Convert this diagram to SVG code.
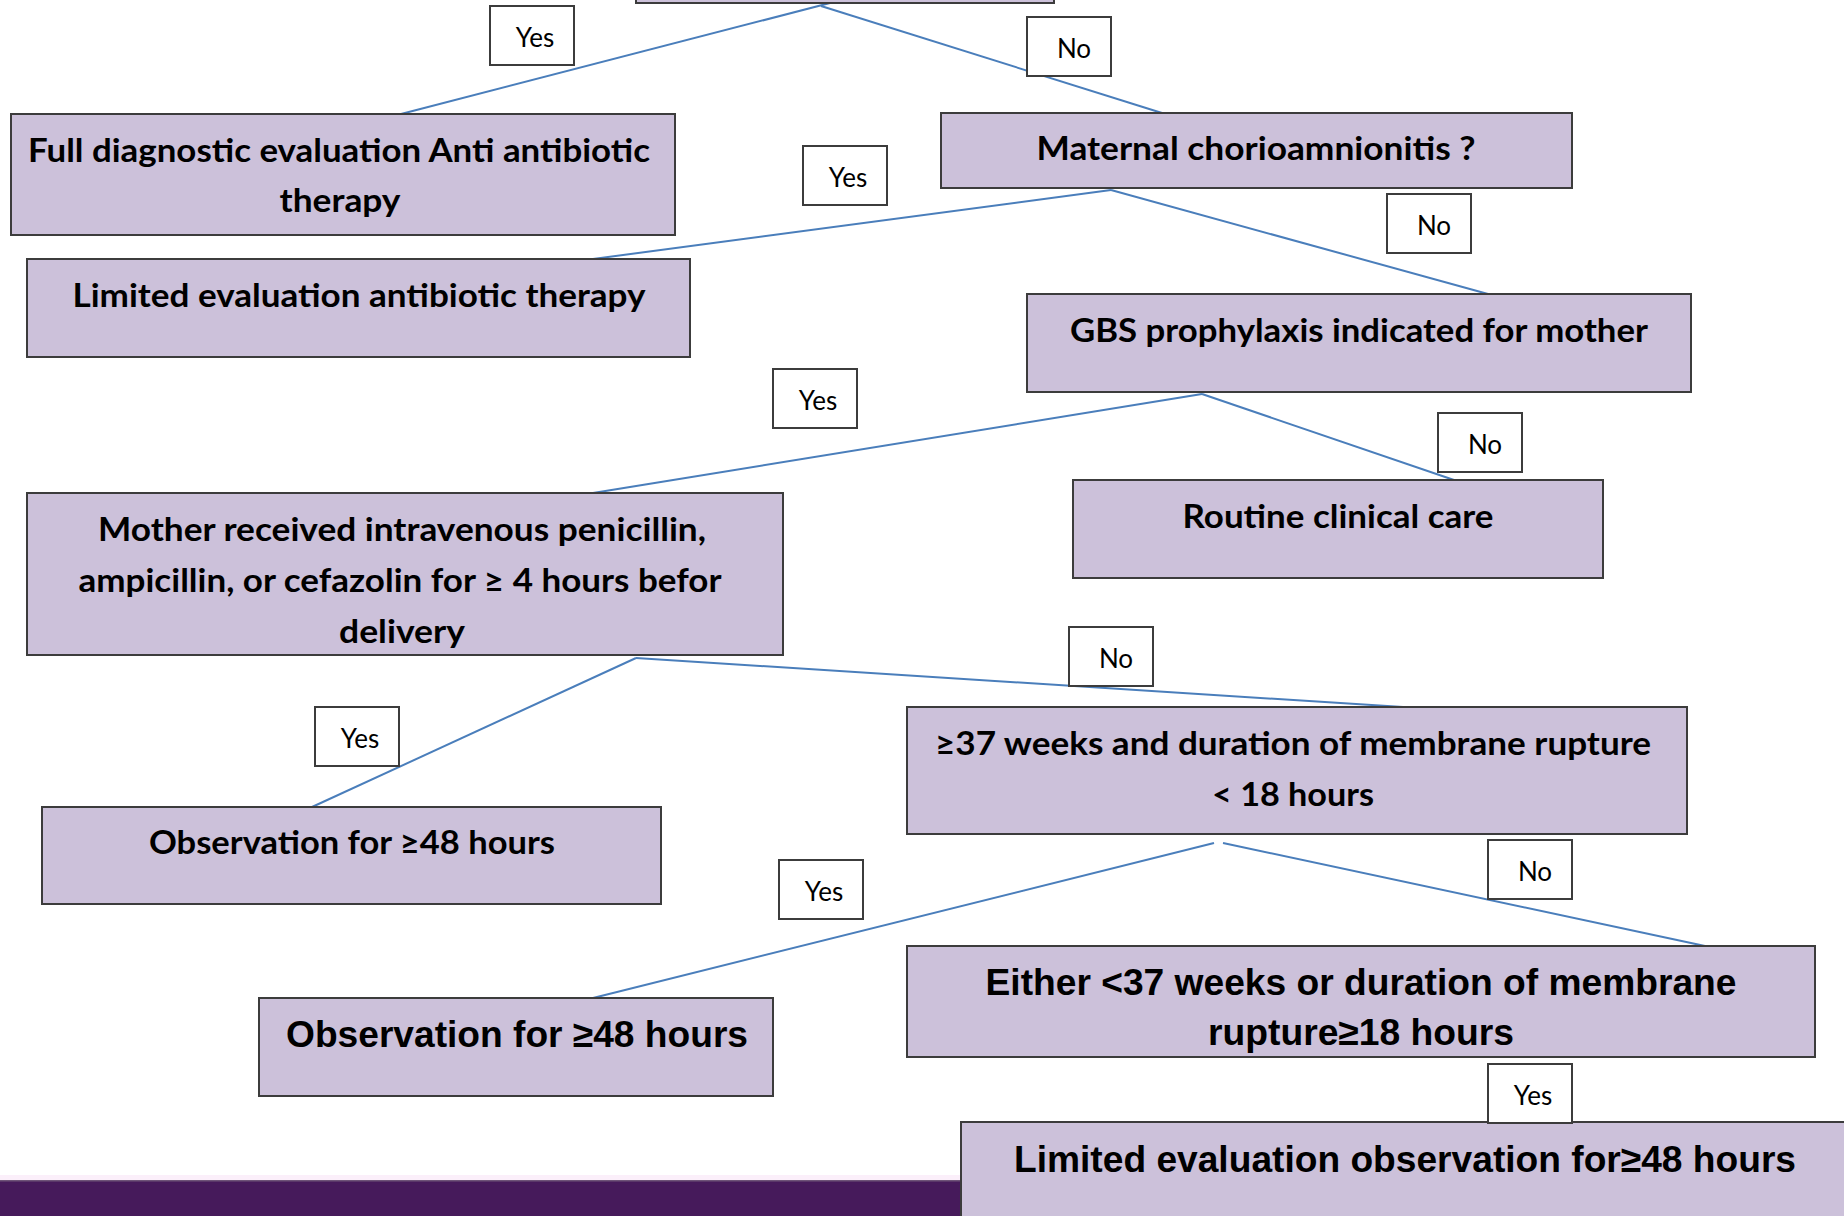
<svg xmlns="http://www.w3.org/2000/svg" width="1844" height="1216" viewBox="0 0 1844 1216">
<style>
.box{fill:#ccc1da;stroke:#3c3c3c;stroke-width:2}
.lbl{fill:#ffffff;stroke:#3c3c3c;stroke-width:2}
.t{font-family:Lato,"Open Sans",sans-serif;font-weight:bold;font-size:32px;fill:#000;text-anchor:middle}
.a{font-family:"Liberation Sans",Arial,sans-serif;font-weight:bold;font-size:37px;fill:#000;text-anchor:middle}
.l{font-family:Lato,"Open Sans",sans-serif;font-size:26px;fill:#000;text-anchor:middle}
.c{stroke:#4a7ebb;stroke-width:2;fill:none}
</style>
<rect width="1844" height="1216" fill="#ffffff"/>
<rect x="0" y="1175" width="1844" height="5" fill="#fbeffa"/>
<rect x="0" y="1180" width="1844" height="36" fill="#461a5b"/>
<rect x="0" y="1180" width="1844" height="1.5" fill="#6e5478"/>

<g id="connectors">
<line class="c" x1="830" y1="3" x2="401" y2="114"/>
<line class="c" x1="821" y1="6" x2="1162" y2="113"/>
<line class="c" x1="1111" y1="190" x2="593" y2="259"/>
<line class="c" x1="1111" y1="190" x2="1488" y2="294"/>
<line class="c" x1="1202" y1="394" x2="593" y2="493"/>
<line class="c" x1="1202" y1="394" x2="1454" y2="480"/>
<line class="c" x1="636" y1="658" x2="312" y2="807"/>
<line class="c" x1="636" y1="658" x2="1403" y2="707"/>
<line class="c" x1="1214" y1="843" x2="593" y2="998"/>
<line class="c" x1="1223" y1="843" x2="1705" y2="946"/>
</g>

<g id="n-top"><rect class="box" x="636" y="-40" width="418" height="43"/></g>

<g id="n-full"><rect class="box" x="11" y="114" width="664" height="121"/>
<text class="t" x="339" y="162" textLength="622" lengthAdjust="spacingAndGlyphs">Full diagnostic evaluation Anti antibiotic</text>
<text class="t" x="340" y="212" textLength="121" lengthAdjust="spacingAndGlyphs">therapy</text></g>

<g id="n-chorio"><rect class="box" x="941" y="113" width="631" height="75"/>
<text class="t" x="1256" y="160" textLength="439" lengthAdjust="spacingAndGlyphs">Maternal chorioamnionitis ?</text></g>

<g id="n-limited"><rect class="box" x="27" y="259" width="663" height="98"/>
<text class="t" x="359" y="307" textLength="573" lengthAdjust="spacingAndGlyphs">Limited evaluation antibiotic therapy</text></g>

<g id="n-gbs"><rect class="box" x="1027" y="294" width="664" height="98"/>
<text class="t" x="1359" y="342" textLength="578" lengthAdjust="spacingAndGlyphs">GBS prophylaxis indicated for mother</text></g>

<g id="n-routine"><rect class="box" x="1073" y="480" width="530" height="98"/>
<text class="t" x="1338" y="528" textLength="311" lengthAdjust="spacingAndGlyphs">Routine clinical care</text></g>

<g id="n-mother"><rect class="box" x="27" y="493" width="756" height="162"/>
<text class="t" x="402" y="541" textLength="608" lengthAdjust="spacingAndGlyphs">Mother received intravenous penicillin,</text>
<text class="t" x="400" y="592" textLength="643" lengthAdjust="spacingAndGlyphs">ampicillin, or cefazolin for ≥ 4 hours befor</text>
<text class="t" x="402" y="643" textLength="126" lengthAdjust="spacingAndGlyphs">delivery</text></g>

<g id="n-37weeks"><rect class="box" x="907" y="707" width="780" height="127"/>
<text class="t" x="1293" y="755" textLength="716" lengthAdjust="spacingAndGlyphs">≥37 weeks and duration of membrane rupture</text>
<text class="t" x="1293" y="806" textLength="162" lengthAdjust="spacingAndGlyphs">&lt; 18 hours</text></g>

<g id="n-obs1"><rect class="box" x="42" y="807" width="619" height="97"/>
<text class="t" x="352" y="854" textLength="406" lengthAdjust="spacingAndGlyphs">Observation for ≥48 hours</text></g>

<g id="n-obs2"><rect class="box" x="259" y="998" width="514" height="98"/>
<text class="a" x="517" y="1047" textLength="462" lengthAdjust="spacingAndGlyphs">Observation for ≥48 hours</text></g>

<g id="n-either"><rect class="box" x="907" y="946" width="908" height="111"/>
<text class="a" x="1361" y="995" textLength="751" lengthAdjust="spacingAndGlyphs">Either &lt;37 weeks or duration of membrane</text>
<text class="a" x="1361" y="1045" textLength="306" lengthAdjust="spacingAndGlyphs">rupture≥18 hours</text></g>

<g id="n-limobs"><rect class="box" x="961" y="1122" width="900" height="110"/>
<text class="a" x="1405" y="1172" textLength="782" lengthAdjust="spacingAndGlyphs">Limited evaluation observation for≥48 hours</text></g>

<g id="labels">
<g id="lb-yes1"><rect class="lbl" x="490" y="6" width="84" height="59"/><text class="l" x="535" y="47">Yes</text></g>
<g id="lb-no1"><rect class="lbl" x="1027" y="17" width="84" height="59"/><text class="l" x="1074" y="58">No</text></g>
<g id="lb-yes2"><rect class="lbl" x="803" y="146" width="84" height="59"/><text class="l" x="848" y="187">Yes</text></g>
<g id="lb-no2"><rect class="lbl" x="1387" y="194" width="84" height="59"/><text class="l" x="1434" y="235">No</text></g>
<g id="lb-yes3"><rect class="lbl" x="773" y="369" width="84" height="59"/><text class="l" x="818" y="410">Yes</text></g>
<g id="lb-no3"><rect class="lbl" x="1438" y="413" width="84" height="59"/><text class="l" x="1485" y="454">No</text></g>
<g id="lb-no4"><rect class="lbl" x="1069" y="627" width="84" height="59"/><text class="l" x="1116" y="668">No</text></g>
<g id="lb-yes4"><rect class="lbl" x="315" y="707" width="84" height="59"/><text class="l" x="360" y="748">Yes</text></g>
<g id="lb-yes5"><rect class="lbl" x="779" y="860" width="84" height="59"/><text class="l" x="824" y="901">Yes</text></g>
<g id="lb-no5"><rect class="lbl" x="1488" y="840" width="84" height="59"/><text class="l" x="1535" y="881">No</text></g>
<g id="lb-yes6"><rect class="lbl" x="1488" y="1064" width="84" height="59"/><text class="l" x="1533" y="1105">Yes</text></g>
</g>
</svg>
